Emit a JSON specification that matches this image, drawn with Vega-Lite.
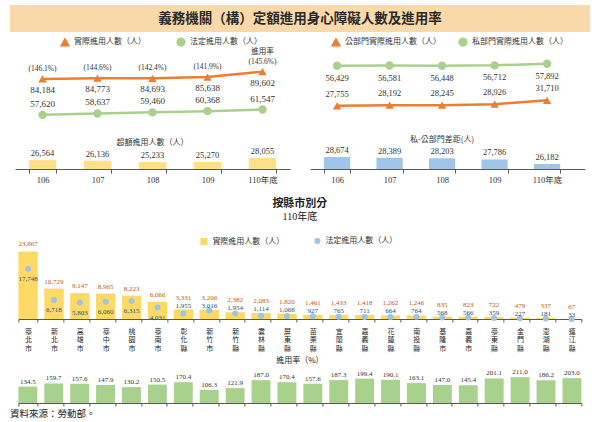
{
  "$schema": "https://vega.github.io/schema/vega-lite/v6.json",
  "background": "white",
  "padding": {"left": 10, "right": 10, "top": 5, "bottom": 0},
  "config": {
    "view": {"stroke": null},
    "font": "Liberation Serif, Noto Sans CJK TC",
    "text": {"font": "Liberation Serif, Noto Sans CJK TC", "color": "#333333"},
    "axis": {"labelFont": "Liberation Serif, Noto Sans CJK TC", "domainColor": "#595959", "tickColor": "#595959", "grid": false},
    "legend": {"labelFont": "Noto Sans CJK TC", "labelFontSize": 8, "labelColor": "#333333", "padding": 0},
    "title": {"font": "Liberation Serif, Noto Sans CJK TC"}
  },
  "datasets": {
    "top": [
      {"year": "106", "actual": 84184, "legal": 57620, "rateLabel": "(146.1%)", "excess": 26564, "public": 27755, "private": 56429, "gap": 28674},
      {"year": "107", "actual": 84773, "legal": 58637, "rateLabel": "(144.6%)", "excess": 26136, "public": 28192, "private": 56581, "gap": 28389},
      {"year": "108", "actual": 84693, "legal": 59460, "rateLabel": "(142.4%)", "excess": 25233, "public": 28245, "private": 56448, "gap": 28203},
      {"year": "109", "actual": 85638, "legal": 60368, "rateLabel": "(141.9%)", "excess": 25270, "public": 28926, "private": 56712, "gap": 27786},
      {"year": "110年底", "actual": 89602, "legal": 61547, "rateLabel": "(145.6%)", "excess": 28055, "public": 31710, "private": 57892, "gap": 26182}
    ],
    "county": [
      {"county": "臺北市", "actual": 23867, "legal": 17748, "rate": 134.5},
      {"county": "新北市", "actual": 10729, "legal": 6718, "rate": 159.7},
      {"county": "高雄市", "actual": 9147, "legal": 5803, "rate": 157.6},
      {"county": "臺中市", "actual": 8965, "legal": 6060, "rate": 147.9},
      {"county": "桃園市", "actual": 8223, "legal": 6315, "rate": 130.2},
      {"county": "臺南市", "actual": 6066, "legal": 4031, "rate": 150.5},
      {"county": "彰化縣", "actual": 3331, "legal": 1955, "rate": 170.4},
      {"county": "新竹市", "actual": 3206, "legal": 3016, "rate": 106.3},
      {"county": "新竹縣", "actual": 2382, "legal": 1954, "rate": 121.9},
      {"county": "雲林縣", "actual": 2083, "legal": 1114, "rate": 187.0},
      {"county": "屏東縣", "actual": 1820, "legal": 1068, "rate": 170.4},
      {"county": "苗栗縣", "actual": 1461, "legal": 927, "rate": 157.6},
      {"county": "宜蘭縣", "actual": 1433, "legal": 765, "rate": 187.3},
      {"county": "嘉義縣", "actual": 1418, "legal": 711, "rate": 199.4},
      {"county": "花蓮縣", "actual": 1262, "legal": 664, "rate": 190.1},
      {"county": "南投縣", "actual": 1246, "legal": 764, "rate": 163.1},
      {"county": "基隆市", "actual": 835, "legal": 568, "rate": 147.0},
      {"county": "嘉義市", "actual": 823, "legal": 566, "rate": 145.4},
      {"county": "臺東縣", "actual": 722, "legal": 359, "rate": 201.1},
      {"county": "金門縣", "actual": 479, "legal": 227, "rate": 211.0},
      {"county": "澎湖縣", "actual": 337, "legal": 181, "rate": 186.2},
      {"county": "連江縣", "actual": 67, "legal": 33, "rate": 203.0}
    ]
  },
  "title": {"text": "資料來源：勞動部。", "orient": "bottom", "anchor": "start", "fontSize": 9.5, "fontWeight": "normal", "color": "#222222", "offset": 2, "font": "Noto Sans CJK TC"},
  "spacing": 14,
  "center": true,
  "resolve": {"scale": {"x": "independent", "y": "independent", "color": "independent", "fill": "independent", "shape": "independent"}},
  "vconcat": [
    {
      "spacing": 5,
      "center": true,
      "resolve": {"scale": {"x": "independent", "y": "independent", "color": "independent", "shape": "independent"}},
      "vconcat": [
        {
          "width": 580, "height": 27,
          "view": {"fill": "#F9D9A9", "stroke": null},
          "data": {"values": [{"t": "義務機關（構）定額進用身心障礙人數及進用率"}]},
          "mark": {"type": "text", "fontSize": 13.5, "fontWeight": "bold", "font": "Noto Sans CJK TC", "color": "#2a2a2a"},
          "encoding": {"text": {"field": "t"}}
        },
        {
          "spacing": 20,
          "resolve": {"scale": {"x": "independent", "y": "independent", "color": "independent", "shape": "independent"}},
          "hconcat": [
            {
              "width": 275, "height": 120,
              "data": {"name": "top"},
              "resolve": {"scale": {"y": "independent"}},
              "encoding": {"x": {"field": "year", "type": "ordinal", "sort": null, "scale": {"paddingInner": 0.5, "paddingOuter": 0.25}, "axis": {"title": null, "labelAngle": 0, "labelFontSize": 8.5, "labelColor": "#333333", "labelPadding": 2, "tickBand": "extent", "tickSize": 4}}},
              "layer": [
                {
                  "transform": [{"fold": ["actual", "legal"], "as": ["series", "value"]}],
                  "layer": [
                    {"mark": {"type": "line", "strokeWidth": 2.5},
                     "encoding": {
                       "y": {"field": "value", "type": "quantitative", "scale": {"domain": [17500, 106400], "nice": false, "zero": false}, "axis": null},
                       "color": {"field": "series", "type": "nominal", "scale": {"domain": ["actual", "legal"], "range": ["#ED7D31", "#A9D18E"]},
                         "legend": {"title": null, "orient": "none", "legendX": 45, "legendY": -12, "direction": "horizontal", "columnPadding": 28, "symbolSize": 60, "labelOffset": 4, "labelExpr": "datum.label == 'actual' ? '實際進用人數（人）' : '法定進用人數（人）'"}}
                     }},
                    {"mark": {"type": "point", "filled": true, "size": 70, "opacity": 1},
                     "encoding": {
                       "y": {"field": "value", "type": "quantitative", "scale": {"domain": [17500, 106400], "nice": false, "zero": false}, "axis": null},
                       "color": {"field": "series", "type": "nominal", "scale": {"domain": ["actual", "legal"], "range": ["#ED7D31", "#A9D18E"]},
                         "legend": {"title": null, "orient": "none", "legendX": 45, "legendY": -12, "direction": "horizontal", "columnPadding": 28, "symbolSize": 60, "labelOffset": 4, "labelExpr": "datum.label == 'actual' ? '實際進用人數（人）' : '法定進用人數（人）'"}},
                       "shape": {"field": "series", "type": "nominal", "scale": {"domain": ["actual", "legal"], "range": ["triangle-up", "circle"]},
                         "legend": {"title": null, "orient": "none", "legendX": 45, "legendY": -12, "direction": "horizontal", "columnPadding": 28, "symbolSize": 60, "labelOffset": 4, "labelExpr": "datum.label == 'actual' ? '實際進用人數（人）' : '法定進用人數（人）'"}}
                     }}
                  ]
                },
                {"mark": {"type": "text", "dy": -10, "fontSize": 7.5},
                 "encoding": {"y": {"field": "actual", "type": "quantitative", "scale": {"domain": [17500, 106400], "nice": false, "zero": false}, "axis": null}, "text": {"field": "rateLabel"}}},
                {"transform": [{"filter": "datum.year == '110年底'"}],
                 "mark": {"type": "text", "dy": -20, "fontSize": 7.5, "font": "Noto Sans CJK TC"},
                 "encoding": {"y": {"field": "actual", "type": "quantitative", "scale": {"domain": [17500, 106400], "nice": false, "zero": false}, "axis": null}, "text": {"value": "進用率"}}},
                {"mark": {"type": "text", "dy": 11, "fontSize": 9},
                 "encoding": {"y": {"field": "actual", "type": "quantitative", "scale": {"domain": [17500, 106400], "nice": false, "zero": false}, "axis": null}, "text": {"field": "actual", "format": ","}}},
                {"mark": {"type": "text", "dy": -11, "fontSize": 9},
                 "encoding": {"y": {"field": "legal", "type": "quantitative", "scale": {"domain": [17500, 106400], "nice": false, "zero": false}, "axis": null}, "text": {"field": "legal", "format": ","}}},
                {"layer": [
                  {"mark": {"type": "bar", "color": "#FFE08A"},
                   "encoding": {"y": {"field": "excess", "type": "quantitative", "scale": {"domain": [20300, 104800], "nice": false, "zero": false}, "axis": null}, "y2": {"datum": 20300}}},
                  {"mark": {"type": "text", "dy": -7, "fontSize": 8.5},
                   "encoding": {"y": {"field": "excess", "type": "quantitative"}, "text": {"field": "excess", "format": ","}}},
                  {"data": {"values": [{"label": "超額進用人數（人）"}]},
                   "mark": {"type": "text", "fontSize": 8, "font": "Noto Sans CJK TC"},
                   "encoding": {"x": {"datum": "108"}, "y": {"datum": 38500}, "text": {"field": "label"}}}
                ]}
              ]
            },
            {
              "width": 275, "height": 120,
              "data": {"name": "top"},
              "resolve": {"scale": {"y": "independent"}},
              "encoding": {"x": {"field": "year", "type": "ordinal", "sort": null, "scale": {"paddingInner": 0.5, "paddingOuter": 0.369, "align": 0.36}, "axis": {"title": null, "labelAngle": 0, "labelFontSize": 8.5, "labelColor": "#333333", "labelPadding": 2, "tickBand": "extent", "tickSize": 4}}},
              "layer": [
                {
                  "transform": [{"fold": ["public", "private"], "as": ["series", "value"]}],
                  "layer": [
                    {"mark": {"type": "line", "strokeWidth": 2.5},
                     "encoding": {
                       "y": {"field": "value", "type": "quantitative", "scale": {"domain": [-17400, 68400], "nice": false, "zero": false}, "axis": null},
                       "color": {"field": "series", "type": "nominal", "scale": {"domain": ["public", "private"], "range": ["#ED7D31", "#A9D18E"]},
                         "legend": {"title": null, "orient": "none", "legendX": 21, "legendY": -12, "direction": "horizontal", "columnPadding": 15, "symbolSize": 60, "labelOffset": 4, "labelExpr": "datum.label == 'public' ? '公部門實際進用人數（人）' : '私部門實際進用人數（人）'"}}
                     }},
                    {"mark": {"type": "point", "filled": true, "size": 70, "opacity": 1},
                     "encoding": {
                       "y": {"field": "value", "type": "quantitative", "scale": {"domain": [-17400, 68400], "nice": false, "zero": false}, "axis": null},
                       "color": {"field": "series", "type": "nominal", "scale": {"domain": ["public", "private"], "range": ["#ED7D31", "#A9D18E"]},
                         "legend": {"title": null, "orient": "none", "legendX": 21, "legendY": -12, "direction": "horizontal", "columnPadding": 15, "symbolSize": 60, "labelOffset": 4, "labelExpr": "datum.label == 'public' ? '公部門實際進用人數（人）' : '私部門實際進用人數（人）'"}},
                       "shape": {"field": "series", "type": "nominal", "scale": {"domain": ["public", "private"], "range": ["triangle-up", "circle"]},
                         "legend": {"title": null, "orient": "none", "legendX": 21, "legendY": -12, "direction": "horizontal", "columnPadding": 15, "symbolSize": 60, "labelOffset": 4, "labelExpr": "datum.label == 'public' ? '公部門實際進用人數（人）' : '私部門實際進用人數（人）'"}}
                     }}
                  ]
                },
                {"mark": {"type": "text", "dy": 12, "fontSize": 8.5},
                 "encoding": {"y": {"field": "private", "type": "quantitative", "scale": {"domain": [-17400, 68400], "nice": false, "zero": false}, "axis": null}, "text": {"field": "private", "format": ","}}},
                {"mark": {"type": "text", "dy": -12, "fontSize": 8.5},
                 "encoding": {"y": {"field": "public", "type": "quantitative", "scale": {"domain": [-17400, 68400], "nice": false, "zero": false}, "axis": null}, "text": {"field": "public", "format": ","}}},
                {"layer": [
                  {"mark": {"type": "bar", "color": "#9FC5E8"},
                   "encoding": {"y": {"field": "gap", "type": "quantitative", "scale": {"domain": [24400, 67100], "nice": false, "zero": false}, "axis": null}, "y2": {"datum": 24400}}},
                  {"mark": {"type": "text", "dy": -7, "fontSize": 8.5},
                   "encoding": {"y": {"field": "gap", "type": "quantitative"}, "text": {"field": "gap", "format": ","}}},
                  {"data": {"values": [{"label": "私-公部門差距(人)"}]},
                   "mark": {"type": "text", "fontSize": 8, "font": "Noto Sans CJK TC"},
                   "encoding": {"x": {"datum": "108"}, "y": {"datum": 34600}, "text": {"field": "label"}}}
                ]}
              ]
            }
          ]
        }
      ]
    },
    {
      "spacing": 6,
      "center": true,
      "resolve": {"scale": {"x": "independent", "y": "independent", "color": "independent", "fill": "independent"}},
      "vconcat": [
        {
          "width": 563, "height": 68,
          "title": {"text": "按縣市別分", "subtitle": "110年底", "fontSize": 11, "fontWeight": "bold", "font": "Noto Sans CJK TC", "subtitleFont": "Liberation Serif, Noto Sans CJK TC", "subtitleFontSize": 10, "subtitlePadding": 3, "offset": 15, "color": "#222222", "subtitleColor": "#222222"},
          "data": {"name": "county"},
          "encoding": {"x": {"field": "county", "type": "nominal", "sort": null, "scale": {"paddingInner": 0.25, "paddingOuter": 0},
            "axis": {"title": null, "labelAngle": 0, "labelExpr": "split(datum.label, '')", "labelFont": "Noto Sans CJK TC", "labelFontSize": 7, "labelLineHeight": 8.5, "labelColor": "#222222", "labelBaseline": "top", "labelPadding": 5, "labelOverlap": false, "tickBand": "extent", "tickSize": 3}}},
          "layer": [
            {"mark": {"type": "bar"},
             "encoding": {"y": {"field": "actual", "type": "quantitative", "scale": {"domain": [0, 24000], "nice": false}, "axis": null},
               "fill": {"datum": "實際進用人數（人）", "scale": {"domain": ["實際進用人數（人）"], "range": ["#FFD966"]},
                 "legend": {"title": null, "orient": "none", "legendX": 181, "legendY": -14, "symbolType": "square", "symbolSize": 50, "labelOffset": 4}}}},
            {"mark": {"type": "point", "filled": true, "size": 36, "opacity": 1},
             "encoding": {"y": {"field": "legal", "type": "quantitative"},
               "color": {"datum": "法定進用人數（人）", "scale": {"domain": ["法定進用人數（人）"], "range": ["#9DC3E6"]},
                 "legend": {"title": null, "orient": "none", "legendX": 295, "legendY": -14, "symbolType": "circle", "symbolSize": 36, "labelOffset": 4}}}},
            {"transform": [{"filter": "datum.actual >= 4000"}],
             "mark": {"type": "text", "dy": -7, "fontSize": 7, "color": "#C65911"},
             "encoding": {"y": {"field": "actual", "type": "quantitative"}, "text": {"field": "actual", "format": ","}}},
            {"transform": [{"filter": "datum.actual < 4000"}],
             "mark": {"type": "text", "dy": -12, "fontSize": 7, "color": "#C65911"},
             "encoding": {"y": {"field": "actual", "type": "quantitative"}, "text": {"field": "actual", "format": ","}}},
            {"transform": [{"filter": "datum.actual >= 4000"}],
             "mark": {"type": "text", "dy": 10, "fontSize": 7, "color": "#1F4E79"},
             "encoding": {"y": {"field": "legal", "type": "quantitative"}, "text": {"field": "legal", "format": ","}}},
            {"transform": [{"filter": "datum.actual < 4000"}],
             "mark": {"type": "text", "dy": -4, "fontSize": 7, "color": "#1F4E79"},
             "encoding": {"y": {"field": "actual", "type": "quantitative"}, "text": {"field": "legal", "format": ","}}}
          ]
        },
        {
          "width": 563, "height": 33,
          "title": {"text": "進用率（%）", "fontSize": 8, "fontWeight": "normal", "font": "Noto Sans CJK TC", "color": "#222222", "offset": 3},
          "data": {"name": "county"},
          "encoding": {"x": {"field": "county", "type": "nominal", "sort": null, "scale": {"paddingInner": 0.27, "paddingOuter": 0},
            "axis": {"title": null, "labels": false, "tickBand": "extent", "tickSize": 3}}},
          "layer": [
            {"mark": {"type": "bar", "color": "#A9D18E"},
             "encoding": {"y": {"field": "rate", "type": "quantitative", "scale": {"domain": [0, 270], "nice": false}, "axis": null}}},
            {"mark": {"type": "text", "dy": -5, "fontSize": 7},
             "encoding": {"y": {"field": "rate", "type": "quantitative"}, "text": {"field": "rate", "format": ".1f"}}}
          ]
        }
      ]
    }
  ]
}
